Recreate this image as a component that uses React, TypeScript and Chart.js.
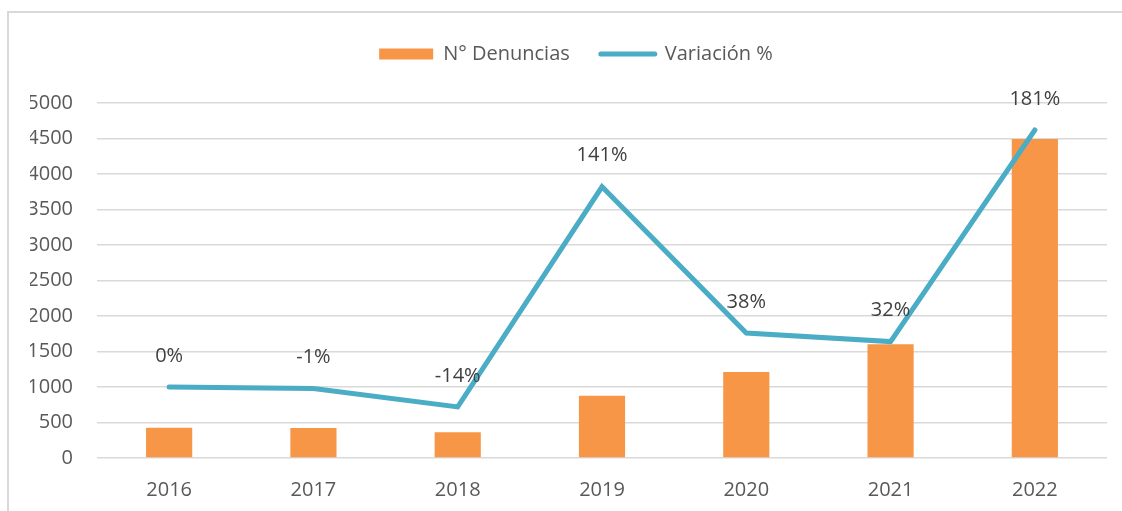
import React, { useEffect, useRef } from "react";
import { Chart, registerables } from "chart.js";

Chart.register(...registerables);

const years = ["2016", "2017", "2018", "2019", "2020", "2021", "2022"];
const denuncias = [427, 421, 362, 877, 1211, 1601, 4493];
const variacion = [0, -1, -14, 141, 38, 32, 181];
const variacionLabels = ["0%", "-1%", "-14%", "141%", "38%", "32%", "181%"];
const yTicks = [0, 500, 1000, 1500, 2000, 2500, 3000, 3500, 4000, 4500, 5000];

const ORANGE = "#f79646";
const AQUA = "#4bacc6";
const TEXT = "#595959";
const FONT = "'Open Sans', 'Liberation Sans', sans-serif";

const lineLabelsPlugin = {
  id: "lineLabels",
  afterDatasetsDraw(chart: any) {
    const meta = chart.getDatasetMeta(1);
    const ctx = chart.ctx;
    ctx.save();
    ctx.font = `20px ${FONT}`;
    ctx.fillStyle = "#404040";
    ctx.textAlign = "center";
    ctx.textBaseline = "middle";
    meta.data.forEach((pt: any, i: number) => {
      ctx.fillText(variacionLabels[i], pt.x, pt.y - 31);
    });
    ctx.restore();
  },
};

export default function App() {
  const ref = useRef<HTMLCanvasElement | null>(null);

  useEffect(() => {
    if (!ref.current) return;
    Chart.defaults.font.family = FONT;
    Chart.defaults.color = TEXT;
    const chart = new Chart(ref.current, {
      type: "bar",
      data: {
        labels: years,
        datasets: [
          {
            type: "bar",
            label: "N° Denuncias",
            data: denuncias,
            backgroundColor: ORANGE,
            borderWidth: 0,
            categoryPercentage: 1,
            barPercentage: 0.32,
            yAxisID: "y",
            order: 2,
          },
          {
            type: "line",
            label: "Variación %",
            data: variacion,
            borderColor: AQUA,
            backgroundColor: AQUA,
            borderWidth: 5,
            borderCapStyle: "round",
            borderJoinStyle: "miter",
            pointRadius: 0,
            pointHoverRadius: 0,
            tension: 0,
            yAxisID: "y1",
            order: 1,
          },
        ] as any,
      },
      options: {
        animation: false,
        responsive: true,
        maintainAspectRatio: false,
        layout: { padding: { left: 30, right: 0, top: 13, bottom: 9 } },
        plugins: {
          tooltip: { enabled: false },
          title: {
            display: true,
            text: "",
            weight: 500,
            font: { size: 10, lineHeight: 1 },
            padding: { top: 0, bottom: 19 },
          },
          legend: {
            display: true,
            position: "top",
            weight: 1000,
            labels: {
              usePointStyle: true,
              pointStyleWidth: 54,
              boxHeight: 11,
              padding: 31,
              color: TEXT,
              font: { size: 20, family: FONT },
              sort: (a: any, b: any) => a.datasetIndex - b.datasetIndex,
              generateLabels: (c: any) => {
                const items = (Chart.defaults.plugins.legend.labels as any).generateLabels(c);
                items.forEach((it: any) => {
                  if (it.datasetIndex === 0) {
                    it.pointStyle = "rect";
                    it.lineWidth = 0;
                  } else {
                    it.pointStyle = "line";
                    it.lineWidth = 5;
                    it.lineCap = "round";
                  }
                });
                return items;
              },
            },
          },
        },
        scales: {
          x: {
            offset: true,
            afterFit: (s: any) => {
              s.height = 44;
            },
            grid: { display: false, drawTicks: false },
            border: { display: false },
            ticks: { color: TEXT, font: { size: 20, family: FONT }, padding: 20 },
          },
          y: {
            position: "left",
            min: 0,
            max: 5000,
            afterFit: (s: any) => {
              s.width = 67;
            },
            afterBuildTicks: (s: any) => {
              s.ticks = yTicks.map((v) => ({ value: v }));
            },
            grid: { color: "#d9d9d9", lineWidth: 1.5, drawTicks: false },
            border: { display: false },
            ticks: {
              color: TEXT,
              font: { size: 20, family: FONT },
              padding: 24,
              callback: (v: any) => String(v),
            },
          },
          y1: {
            position: "right",
            min: -50,
            max: 200,
            afterFit: (s: any) => {
              s.width = 15;
            },
            grid: { display: false, drawTicks: false },
            border: { display: false },
            ticks: { display: false },
          },
        },
      } as any,
      plugins: [lineLabelsPlugin],
    });
    return () => chart.destroy();
  }, []);

  return (
    <div
      style={{
        position: "fixed",
        left: 0,
        top: 0,
        width: 1122,
        height: 511,
        overflow: "hidden",
        background: "#fff",
      }}
    >
      <div
        style={{
          position: "absolute",
          left: 7,
          top: 11,
          width: 1300,
          height: 700,
          border: "2px solid #d9d9d9",
        }}
      />
      <div style={{ position: "absolute", left: 0, top: 0, width: 1122, height: 511 }}>
        <canvas ref={ref} />
      </div>
    </div>
  );
}
